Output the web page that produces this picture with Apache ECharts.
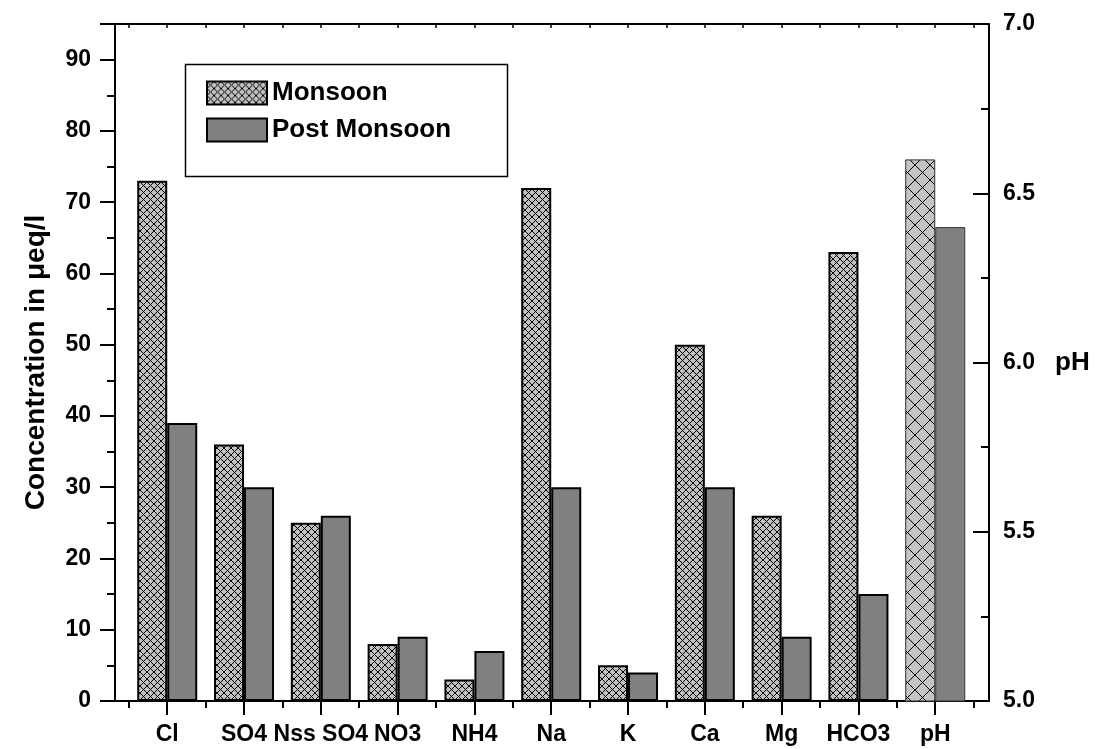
<!DOCTYPE html>
<html>
<head>
<meta charset="utf-8">
<script src="https://cdn.jsdelivr.net/npm/echarts@6/dist/echarts.min.js"></script>
<style>
  html, body { margin: 0; padding: 0; background: #fff; }
  #chart { width: 1098px; height: 749px; }
</style>
</head>
<body>
<div id="chart"></div>
<script>
// ions on the left axis (µeq/l), pH on the right axis
var categories = ['Cl', 'SO4', 'Nss SO4', 'NO3', 'NH4', 'Na', 'K', 'Ca', 'Mg', 'HCO3', 'pH'];
var monsoon     = [73, 36, 25, 8, 3, 72, 5, 50, 26, 63];
var postMonsoon = [39, 30, 26, 9, 7, 30, 4, 30, 9, 15];
var phMonsoon = 6.6;
var phPostMonsoon = 6.4;
var leftTicks = [0, 95, 10];     // min, max, interval
var rightTicks = [5.0, 7.0, 0.5];

var FONT = "'Liberation Sans', Arial, sans-serif";

function hatch(size, bg) {
    var c = document.createElement('canvas');
    c.width = size; c.height = size;
    var g = c.getContext('2d');
    g.fillStyle = bg;
    g.fillRect(0, 0, size, size);
    g.strokeStyle = '#000';
    g.lineWidth = 1;
    g.beginPath();
    g.moveTo(0, 0); g.lineTo(size, size);
    g.moveTo(size, 0); g.lineTo(0, size);
    g.stroke();
    return c;
}

var pos = categories.map(function (c, i) { return i + 1; });
var halfPos = [0.5].concat(pos.map(function (p) { return p + 0.5; }));
var xMin = 0.32, xMax = 11.7;

var chart = echarts.init(document.getElementById('chart'));

var option = {
    animation: false,
    backgroundColor: '#fff',
    grid: { left: 115, right: 109, top: 24, bottom: 48, containLabel: false, outerBoundsMode: 'none' },
    legend: {
        orient: 'vertical',
        left: 201, top: 75,
        itemWidth: 60, itemHeight: 23, itemGap: 11, itemTextGap: 22,
        icon: 'rect',
        data: ['Monsoon', 'Post Monsoon'],
        textStyle: { fontFamily: FONT, fontWeight: 'bold', fontSize: 26, color: '#000' }
    },
    graphic: [{
        type: 'rect', left: 183, top: 62, z: 0,
        shape: { width: 322, height: 112 },
        style: { fill: 'none', stroke: '#000', lineWidth: 1.5 }
    }],
    xAxis: [
        {
            type: 'value', min: xMin, max: xMax, position: 'bottom',
            axisLine: { show: true, onZero: false, lineStyle: { color: '#000', width: 2 } },
            axisTick: { show: true, customValues: pos, length: 14, lineStyle: { color: '#000', width: 2 } },
            axisLabel: {
                customValues: pos, margin: 22, color: '#000',
                fontFamily: FONT, fontWeight: 'bold', fontSize: 23,
                formatter: function (v) { return categories[Math.round(v) - 1] || ''; }
            },
            splitLine: { show: false }
        },
        {
            // minor ticks between categories, also carries the pH bars
            type: 'value', min: xMin, max: xMax, position: 'bottom',
            axisLine: { show: false, onZero: false },
            axisTick: { show: true, customValues: halfPos, length: 7, lineStyle: { color: '#000', width: 2 } },
            axisLabel: { show: false },
            splitLine: { show: false }
        },
        {
            type: 'value', min: xMin, max: xMax, position: 'top',
            axisLine: { show: true, onZero: false, lineStyle: { color: '#000', width: 2 } },
            axisTick: { show: true, inside: true, customValues: pos.concat(halfPos), length: 4, lineStyle: { color: '#000', width: 1.5 } },
            axisLabel: { show: false },
            splitLine: { show: false }
        }
    ],
    yAxis: [
        {
            type: 'value', min: leftTicks[0], max: leftTicks[1], interval: leftTicks[2],
            name: 'Concentration in \u03bceq/l',
            nameLocation: 'middle', nameRotate: 90, nameGap: 65,
            nameTextStyle: { fontFamily: FONT, fontWeight: 'bold', fontSize: 28, color: '#000' },
            axisLine: { show: true, onZero: false, lineStyle: { color: '#000', width: 2 } },
            axisTick: { show: true, length: 15, lineStyle: { color: '#000', width: 2 } },
            minorTick: { show: true, splitNumber: 2, length: 8, lineStyle: { color: '#000', width: 2 } },
            axisLabel: { showMaxLabel: false, margin: 24, color: '#000', fontFamily: FONT, fontWeight: 'bold', fontSize: 23 },
            splitLine: { show: false }
        },
        {
            type: 'value', min: rightTicks[0], max: rightTicks[1], interval: rightTicks[2], position: 'right',
            name: 'pH',
            nameLocation: 'middle', nameRotate: 0, nameGap: 66,
            nameTextStyle: { fontFamily: FONT, fontWeight: 'bold', fontSize: 26, color: '#000', padding: [14, 0, 0, 0] },
            axisLine: { show: true, onZero: false, lineStyle: { color: '#000', width: 2 } },
            axisTick: { show: true, inside: true, length: 16, lineStyle: { color: '#000', width: 2 } },
            minorTick: { show: true, splitNumber: 2, length: 8, lineStyle: { color: '#000', width: 2 } },
            axisLabel: {
                margin: 14, color: '#000', fontFamily: FONT, fontWeight: 'bold', fontSize: 23,
                formatter: function (v) { return v.toFixed(1); }
            },
            splitLine: { show: false }
        }
    ],
    series: [
        {
            name: 'Monsoon', type: 'bar', xAxisIndex: 0, yAxisIndex: 0,
            barWidth: 30, barGap: '0%',
            itemStyle: { color: { image: hatch(7, '#c0c0c0'), repeat: 'repeat' }, borderColor: '#000', borderWidth: 2 },
            data: monsoon.map(function (v, i) { return [pos[i], v]; })
        },
        {
            name: 'Post Monsoon', type: 'bar', xAxisIndex: 0, yAxisIndex: 0,
            barWidth: 30, barGap: '0%',
            itemStyle: { color: '#808080', borderColor: '#000', borderWidth: 2 },
            data: postMonsoon.map(function (v, i) { return [pos[i], v]; })
        },
        {
            name: 'Monsoon', type: 'bar', xAxisIndex: 1, yAxisIndex: 1,
            barWidth: 30, barGap: '0%',
            itemStyle: { color: { image: hatch(15, '#c4c4c4'), repeat: 'repeat' }, borderColor: '#333', borderWidth: 1 },
            data: [[pos[10], phMonsoon]]
        },
        {
            name: 'Post Monsoon', type: 'bar', xAxisIndex: 1, yAxisIndex: 1,
            barWidth: 30, barGap: '0%',
            itemStyle: { color: '#808080', borderColor: '#333', borderWidth: 1 },
            data: [[pos[10], phPostMonsoon]]
        }
    ]
};

chart.setOption(option);
</script>
</body>
</html>
